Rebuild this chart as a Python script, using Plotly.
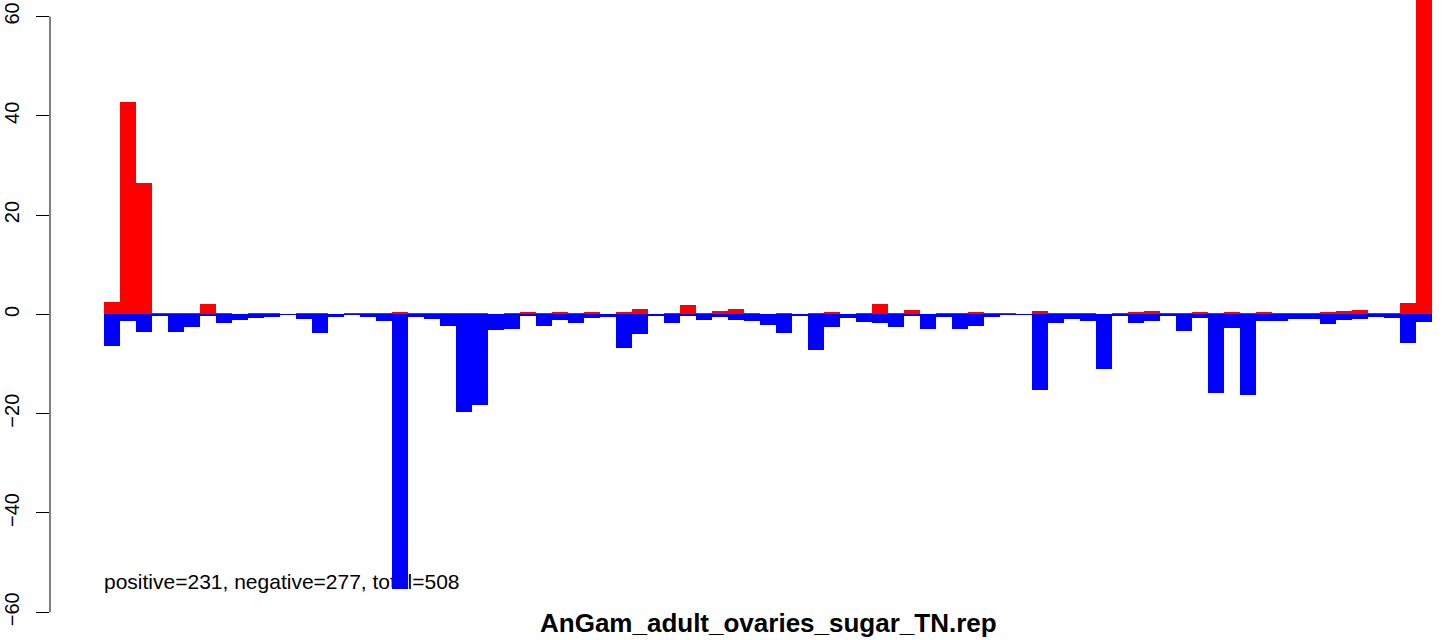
import plotly.graph_objects as go

title_text = "AnGam_adult_ovaries_sugar_TN.rep"
summary_text = "positive=231, negative=277, total=508"

positive = [2.5, 42.8, 26.5, 0.15, 0.2, 0.2, 2.1, 0.15, 0, 0.33,
            0.15, 0, 0.15, 0.15, 0, 0.33, 0.15, 0.15, 0.53, 0.15,
            0.33, 0.15, 0.15, 0.33, 0, 0.15, 0.53, 0.15, 0.53, 0.33,
            0.53, 0, 0.53, 1.13, 0, 0.15, 1.93, 0.15, 0.73, 1.13,
            0.15, 0, 0.15, 0, 0.33, 0.53, 0, 0.15, 2.13, 0.15,
            0.93, 0, 0.33, 0.33, 0.53, 0.15, 0.15, 0, 0.73, 0.15,
            0.15, 0.33, 0, 0.15, 0.53, 0.73, 0.15, 0.15, 0.53, 0.15,
            0.53, 0.33, 0.53, 0.15, 0.15, 0.15, 0.53, 0.73, 0.93, 0.15,
            0.33, 2.35, 70]

negative = [-6.3, -1.4, -3.6, -0.4, -3.5, -2.6, -0.3, -1.8, -1.2, -0.8,
            -0.6, -0.1, -1.0, -3.8, -0.5, -0.1, -0.5, -1.4, -55.3, -0.5,
            -0.9, -2.4, -19.7, -18.3, -3.2, -3.0, -0.2, -2.4, -1.2, -1.8,
            -0.8, -0.6, -6.8, -4.0, -0.4, -1.8, -0.2, -1.2, -0.6, -1.2,
            -1.4, -2.2, -3.8, -0.4, -7.2, -2.6, -0.8, -1.6, -1.8, -2.6,
            -0.2, -3.0, -0.6, -3.0, -2.4, -0.6, -0.1, -0.1, -15.2, -1.8,
            -1.0, -1.4, -10.9, -0.3, -1.8, -1.4, -0.4, -3.4, -0.8, -15.8,
            -2.8, -16.2, -1.4, -1.4, -1.0, -1.0, -2.0, -1.2, -1.0, -0.6,
            -0.8, -5.8, -1.6]

y_ticks = [-60, -40, -20, 0, 20, 40, 60]
y_tick_labels = ["\u221260", "\u221240", "\u221220", "0", "20", "40", "60"]

idx = list(range(len(positive)))
n = len(idx)

XR = [-3.875, 83.0]
YR = [-65.58, 63.32]
FONT = "Liberation Sans, Arial, Helvetica, sans-serif"

fig = go.Figure()

# summary text drawn below the bars (base axes)
fig.add_trace(go.Scatter(
    x=[-0.5], y=[-54.3], mode="text", text=[summary_text],
    textposition="middle right",
    textfont=dict(family=FONT, size=21, color="black"),
    hoverinfo="skip", showlegend=False, xaxis="x", yaxis="y"))

fig.add_trace(go.Bar(
    x=idx, y=positive, width=1, marker=dict(color="#FF0000", line=dict(width=0)),
    showlegend=False, xaxis="x2", yaxis="y2"))
fig.add_trace(go.Bar(
    x=idx, y=negative, width=1, marker=dict(color="#0000FF", line=dict(width=0)),
    showlegend=False, xaxis="x2", yaxis="y2"))

fig.update_layout(
    width=1455, height=640,
    margin=dict(l=50, r=15, t=0, b=0, autoexpand=False),
    paper_bgcolor="white", plot_bgcolor="white",
    barmode="overlay", bargap=0,
    xaxis=dict(range=XR, visible=False, showgrid=False, zeroline=False, automargin=False),
    yaxis=dict(range=YR, showgrid=False, zeroline=False, showline=False, automargin=False,
               tickmode="array", tickvals=y_ticks, ticktext=y_tick_labels,
               ticks="outside", ticklen=13, tickwidth=1, tickcolor="black",
               tickangle=-90, ticklabelstandoff=9,
               tickfont=dict(family=FONT, size=20, color="black")),
    xaxis2=dict(range=XR, overlaying="x", visible=False, showgrid=False, zeroline=False,
                automargin=False),
    yaxis2=dict(range=YR, overlaying="y", visible=False, showgrid=False, zeroline=False,
                automargin=False),
    shapes=[
        dict(type="line", xref="x", yref="y", x0=-0.5, x1=n - 0.5, y0=0, y1=0,
             line=dict(color="#BEBEBE", width=1), layer="below"),
        dict(type="line", xref="paper", yref="y", x0=0, x1=0,
             y0=y_ticks[0], y1=y_ticks[-1], line=dict(color="black", width=1)),
    ],
    annotations=[
        dict(text="<b>" + title_text + "</b>", xref="x", yref="y",
             x=(n - 1) / 2, y=-62.2, xanchor="center", yanchor="middle",
             showarrow=False, font=dict(family=FONT, size=26, color="black")),
    ],
)

fig.write_html("out.html", config={"displayModeBar": False},
               post_script="document.body.style.margin='0';document.body.style.overflow='hidden';")
